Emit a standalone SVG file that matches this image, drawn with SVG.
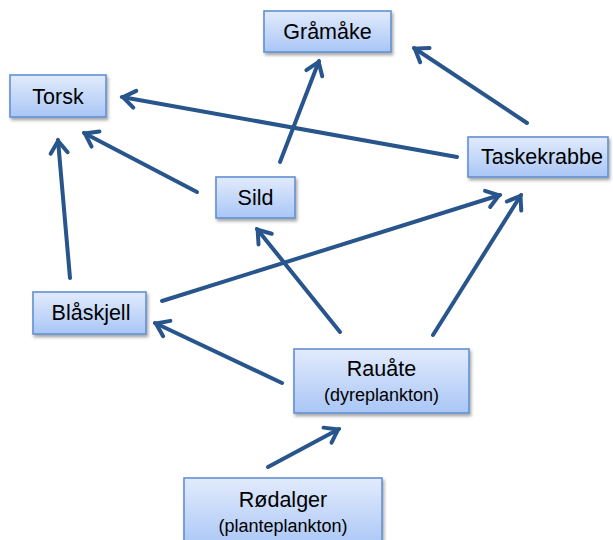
<svg xmlns="http://www.w3.org/2000/svg" width="613" height="540" viewBox="0 0 613 540">
<defs>
<linearGradient id="g" x1="0" y1="0" x2="0" y2="1">
<stop offset="0" stop-color="#e2ebfc"/>
<stop offset="1" stop-color="#a9c6f6"/>
</linearGradient>
<filter id="sh" x="-10%" y="-10%" width="130%" height="140%">
<feDropShadow dx="1.5" dy="2.5" stdDeviation="1.5" flood-color="#000" flood-opacity="0.35"/>
</filter>
<marker id="ah" markerUnits="userSpaceOnUse" viewBox="-16 -12 20 24" refX="1" refY="0" markerWidth="20" markerHeight="24" orient="auto">
<path d="M-12,-8.5 L0,0 L-12,8.5" fill="none" stroke="#27558c" stroke-width="4" stroke-linecap="round"/>
</marker>
</defs>
<style>
.box{fill:url(#g);stroke:#6290d2;stroke-width:1.6;filter:url(#sh)}
.t{font-family:"Liberation Sans",Arial,sans-serif;font-size:21.5px;fill:#000;text-anchor:middle}
.s{font-family:"Liberation Sans",Arial,sans-serif;font-size:18px;fill:#000;text-anchor:middle}
.c line{stroke:#27558c;stroke-width:4;stroke-linecap:round;marker-end:url(#ah)}
</style>
<rect width="613" height="540" fill="#fff"/>
<g class="c" id="connectors">
<line x1="527" y1="123" x2="414" y2="48"/>
<line x1="457" y1="157" x2="122" y2="97"/>
<line x1="280" y1="162" x2="319" y2="61"/>
<line x1="197" y1="192" x2="84" y2="133"/>
<line x1="70" y1="278" x2="58" y2="140"/>
<line x1="162" y1="301" x2="500" y2="195"/>
<line x1="433" y1="335" x2="521" y2="195"/>
<line x1="340" y1="332" x2="257" y2="229"/>
<line x1="282" y1="383" x2="155" y2="323"/>
<line x1="268" y1="467" x2="339" y2="429"/>
</g>
<g id="gramake"><rect class="box" x="264" y="11" width="127" height="41"/><text class="t" x="327.5" y="39">Gråmåke</text></g>
<g id="torsk"><rect class="box" x="10" y="75" width="96" height="42"/><text class="t" x="58" y="104">Torsk</text></g>
<g id="sild"><rect class="box" x="216" y="177" width="79" height="41"/><text class="t" x="255.5" y="205">Sild</text></g>
<g id="taskekrabbe"><rect class="box" x="468" y="137" width="140" height="40"/><text class="t" x="542" y="164">Taskekrabbe</text></g>
<g id="blaskjell"><rect class="box" x="33" y="292" width="113" height="42"/><text class="t" x="91" y="320">Blåskjell</text></g>
<g id="rauate"><rect class="box" x="294" y="349" width="175" height="64"/><text class="t" x="381.5" y="376">Rauåte</text><text class="s" x="381.5" y="401">(dyreplankton)</text></g>
<g id="rodalger"><rect class="box" x="184" y="478" width="198" height="70"/><text class="t" x="283" y="507">Rødalger</text><text class="s" x="283" y="532">(planteplankton)</text></g>
</svg>
